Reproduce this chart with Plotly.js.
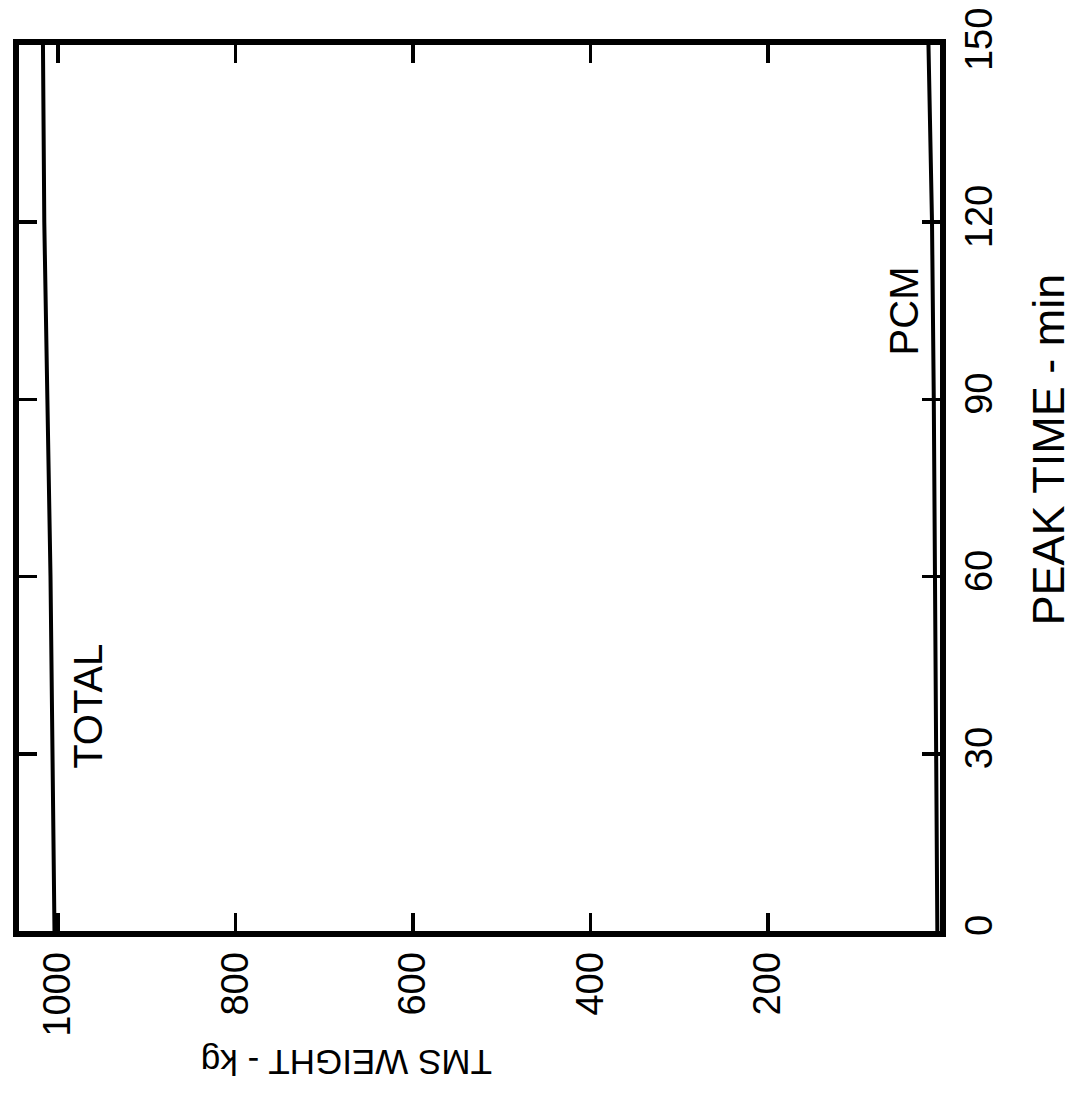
<!DOCTYPE html>
<html>
<head>
<meta charset="utf-8">
<script src="https://cdn.plot.ly/plotly-3.0.1.min.js"></script>
<style>
  html, body { margin: 0; padding: 0; background: #ffffff; }
  #chart { width: 1083px; height: 1102px; }
</style>
</head>
<body>
<div id="chart"></div>
<script>
// Peak time (min) on the vertical axis, TMS weight (kg) on the horizontal axis
const timeMin = [0, 30, 60, 90, 120, 150];
const totalKg = [1004, 1006, 1008.5, 1012, 1015.5, 1017];
const pcmKg   = [9, 10, 12, 13, 15, 19];

const weightTicks = [200, 400, 600, 800, 1000];
const timeTicks = [0, 30, 60, 90, 120, 150];

const seriesLabels = ["TOTAL", "PCM"];
const labelAt = [[967, 38], [47, 105]]; // [weight, time] for each label
const xTitle = "TMS WEIGHT - kg";
const yTitle = "PEAK TIME - min";

const FONT = "Liberation Sans, Arial, sans-serif";

const traces = [
  { x: totalKg, y: timeMin, mode: "lines", line: { color: "#000", width: 4 }, hoverinfo: "skip", showlegend: false },
  { x: pcmKg, y: timeMin, mode: "lines", line: { color: "#000", width: 4 }, hoverinfo: "skip", showlegend: false }
];

const annotations = seriesLabels.map((t, i) => ({
  text: t, x: labelAt[i][0], y: labelAt[i][1], xref: "x", yref: "y",
  showarrow: false, textangle: -90, xanchor: "center", yanchor: "middle",
  font: { family: FONT, size: 40, color: "#000" }
}));
annotations.push({
  text: xTitle, xref: "paper", yref: "paper", x: 0.355, y: -0.149,
  showarrow: false, textangle: 180, xanchor: "center", yanchor: "middle",
  font: { family: FONT, size: 35, color: "#000" }
});
annotations.push({
  text: yTitle, xref: "paper", yref: "paper", x: 1.118, y: 0.543,
  showarrow: false, textangle: -90, xanchor: "center", yanchor: "middle",
  font: { family: FONT, size: 45, color: "#000" }
});

const layout = {
  width: 1083, height: 1102,
  margin: { l: 19, r: 143, t: 45, b: 171 },
  paper_bgcolor: "#fff", plot_bgcolor: "#fff",
  showlegend: false,
  xaxis: {
    range: [1044, 6], tickvals: weightTicks, ticktext: weightTicks.map(String),
    tickangle: -90, ticks: "inside", ticklen: 18, tickwidth: 3.5, tickcolor: "#000",
    showline: true, linewidth: 6, linecolor: "#000", mirror: "ticks",
    showgrid: false, zeroline: false, ticklabelstandoff: 0,
    tickfont: { family: FONT, size: 38, color: "#000" }
  },
  yaxis: {
    range: [0, 150], tickvals: timeTicks, ticktext: timeTicks.map(String), side: "right",
    tickangle: -90, ticks: "inside", ticklen: 18, tickwidth: 3.5, tickcolor: "#000",
    showline: true, linewidth: 6, linecolor: "#000", mirror: "ticks",
    showgrid: false, zeroline: false, ticklabelstandoff: 0,
    tickfont: { family: FONT, size: 38, color: "#000" }
  },
  annotations: annotations
};

Plotly.newPlot("chart", traces, layout, { staticPlot: true, displayModeBar: false });
</script>
</body>
</html>
